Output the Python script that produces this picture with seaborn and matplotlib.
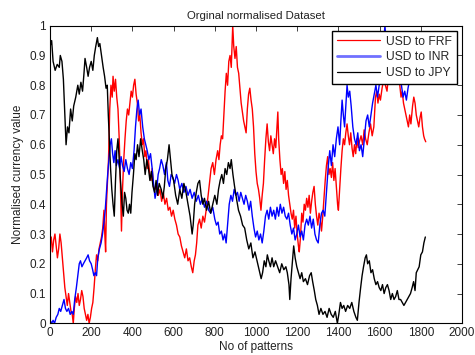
import matplotlib
matplotlib.use("Agg")
import matplotlib.pyplot as plt
import seaborn as sns
import pandas as pd
from matplotlib.lines import Line2D

# ---------------- data ----------------
jpy_x = [0, 8, 15, 25, 35, 45, 50, 58, 65, 72, 78, 85, 92, 100, 108, 115, 125, 135, 142, 150, 158, 165, 170, 178, 185, 192, 200, 208, 215, 222, 230, 236, 242, 250, 258, 265, 272, 278, 283, 288, 294, 300, 306, 312, 318, 324, 330, 336, 342, 350, 356, 362, 368, 374, 380, 386, 392, 398, 405, 412, 418, 425, 432, 440, 448, 455, 462, 470, 478, 485, 492, 500, 508, 515, 522, 530, 540, 548, 555, 562, 570, 578, 585, 592, 600, 610, 620, 630, 640, 650, 660, 670, 680, 690, 695, 702, 710, 718, 726, 734, 742, 750, 760, 770, 780, 790, 800, 810, 818, 826, 834, 842, 850, 858, 866, 874, 880, 888, 896, 905, 915, 925, 935, 945, 955, 965, 975, 985, 995, 1005, 1015, 1025, 1032, 1040, 1048, 1055, 1062, 1070, 1078, 1086, 1095, 1105, 1115, 1125, 1135, 1145, 1152, 1160, 1164, 1170, 1176, 1183, 1190, 1198, 1206, 1214, 1222, 1230, 1240, 1250, 1260, 1268, 1275, 1283, 1290, 1298, 1306, 1315, 1325, 1335, 1345, 1355, 1365, 1375, 1385, 1395, 1402, 1410, 1418, 1426, 1435, 1445, 1455, 1465, 1475, 1485, 1492, 1500, 1508, 1515, 1522, 1530, 1536, 1542, 1550, 1558, 1566, 1574, 1582, 1590, 1598, 1606, 1614, 1622, 1630, 1638, 1646, 1654, 1662, 1670, 1678, 1686, 1694, 1702, 1710, 1718, 1726, 1734, 1742, 1750, 1758, 1765, 1772, 1778, 1785, 1792, 1800, 1808, 1815, 1822]
jpy_y = [0.93, 0.95, 0.88, 0.85, 0.87, 0.86, 0.90, 0.88, 0.82, 0.70, 0.60, 0.66, 0.64, 0.72, 0.68, 0.73, 0.76, 0.80, 0.77, 0.81, 0.78, 0.84, 0.89, 0.86, 0.83, 0.86, 0.88, 0.85, 0.90, 0.93, 0.96, 0.93, 0.94, 0.90, 0.86, 0.83, 0.79, 0.80, 0.70, 0.62, 0.52, 0.45, 0.40, 0.36, 0.48, 0.58, 0.62, 0.55, 0.48, 0.40, 0.36, 0.44, 0.42, 0.38, 0.37, 0.40, 0.37, 0.44, 0.50, 0.57, 0.55, 0.60, 0.56, 0.62, 0.58, 0.55, 0.50, 0.55, 0.52, 0.48, 0.51, 0.46, 0.44, 0.48, 0.43, 0.47, 0.45, 0.42, 0.46, 0.52, 0.55, 0.60, 0.55, 0.50, 0.48, 0.43, 0.40, 0.45, 0.42, 0.47, 0.44, 0.40, 0.36, 0.30, 0.33, 0.40, 0.44, 0.47, 0.48, 0.43, 0.40, 0.42, 0.38, 0.41, 0.37, 0.40, 0.43, 0.40, 0.45, 0.48, 0.50, 0.47, 0.52, 0.50, 0.54, 0.52, 0.55, 0.50, 0.46, 0.42, 0.38, 0.36, 0.33, 0.32, 0.28, 0.25, 0.27, 0.22, 0.24, 0.21, 0.18, 0.15, 0.17, 0.21, 0.19, 0.23, 0.21, 0.19, 0.22, 0.19, 0.21, 0.19, 0.17, 0.20, 0.18, 0.19, 0.17, 0.13, 0.08, 0.15, 0.20, 0.26, 0.22, 0.19, 0.17, 0.15, 0.17, 0.14, 0.15, 0.13, 0.16, 0.17, 0.14, 0.11, 0.08, 0.06, 0.03, 0.05, 0.03, 0.04, 0.02, 0.05, 0.03, 0.02, 0.04, 0.00, 0.03, 0.07, 0.05, 0.06, 0.04, 0.06, 0.05, 0.07, 0.04, 0.02, 0.01, 0.07, 0.12, 0.16, 0.19, 0.22, 0.23, 0.20, 0.21, 0.17, 0.18, 0.15, 0.13, 0.14, 0.12, 0.11, 0.13, 0.10, 0.12, 0.13, 0.11, 0.08, 0.10, 0.08, 0.09, 0.11, 0.08, 0.08, 0.07, 0.06, 0.07, 0.08, 0.09, 0.10, 0.12, 0.14, 0.11, 0.17, 0.18, 0.19, 0.23, 0.24, 0.27, 0.29]

inr_x = [0, 8, 15, 22, 30, 38, 45, 52, 60, 68, 75, 82, 90, 98, 106, 113, 120, 128, 135, 142, 148, 155, 162, 170, 178, 185, 192, 200, 207, 213, 220, 226, 232, 240, 248, 255, 262, 268, 274, 280, 286, 292, 298, 304, 310, 316, 322, 330, 338, 345, 352, 360, 368, 376, 384, 392, 400, 408, 415, 422, 428, 435, 442, 450, 458, 465, 472, 480, 488, 496, 504, 510, 518, 525, 532, 540, 548, 556, 565, 572, 580, 588, 596, 605, 614, 622, 630, 640, 650, 660, 670, 680, 690, 700, 710, 720, 730, 740, 750, 760, 770, 780, 790, 800, 808, 816, 824, 832, 840, 848, 855, 862, 870, 878, 886, 894, 902, 910, 918, 926, 934, 942, 950, 958, 966, 974, 982, 990, 998, 1006, 1014, 1022, 1030, 1038, 1046, 1054, 1062, 1070, 1078, 1086, 1094, 1102, 1110, 1118, 1126, 1134, 1142, 1150, 1158, 1166, 1174, 1182, 1190, 1198, 1206, 1214, 1222, 1230, 1238, 1246, 1254, 1262, 1270, 1278, 1286, 1294, 1302, 1310, 1318, 1326, 1334, 1342, 1350, 1358, 1366, 1374, 1382, 1390, 1398, 1406, 1412, 1418, 1424, 1430, 1436, 1442, 1448, 1455, 1462, 1470, 1478, 1486, 1494, 1502, 1510, 1518, 1526, 1534, 1542, 1550, 1558, 1566, 1574, 1582, 1590, 1598, 1606, 1614, 1620, 1626, 1632, 1640, 1650, 1660, 1670, 1680, 1690, 1698, 1706, 1714, 1722, 1730, 1738, 1746, 1754, 1762, 1772, 1782, 1792, 1802, 1812, 1822]
inr_y = [0.01, 0.00, 0.01, 0.00, 0.02, 0.03, 0.05, 0.04, 0.06, 0.08, 0.05, 0.04, 0.05, 0.03, 0.04, 0.03, 0.08, 0.12, 0.16, 0.20, 0.21, 0.19, 0.20, 0.21, 0.22, 0.23, 0.21, 0.20, 0.18, 0.16, 0.17, 0.16, 0.22, 0.25, 0.27, 0.30, 0.34, 0.38, 0.44, 0.50, 0.55, 0.60, 0.62, 0.57, 0.54, 0.58, 0.53, 0.55, 0.52, 0.56, 0.53, 0.51, 0.55, 0.52, 0.50, 0.54, 0.52, 0.58, 0.66, 0.72, 0.75, 0.70, 0.72, 0.66, 0.62, 0.60, 0.58, 0.55, 0.57, 0.52, 0.46, 0.42, 0.45, 0.50, 0.52, 0.55, 0.53, 0.50, 0.54, 0.48, 0.46, 0.50, 0.49, 0.47, 0.50, 0.48, 0.45, 0.47, 0.44, 0.46, 0.43, 0.45, 0.42, 0.44, 0.41, 0.43, 0.40, 0.42, 0.39, 0.41, 0.38, 0.37, 0.39, 0.35, 0.33, 0.34, 0.30, 0.31, 0.28, 0.30, 0.27, 0.33, 0.40, 0.43, 0.41, 0.45, 0.43, 0.44, 0.41, 0.44, 0.42, 0.40, 0.43, 0.41, 0.38, 0.41, 0.36, 0.32, 0.29, 0.31, 0.28, 0.30, 0.27, 0.31, 0.36, 0.38, 0.35, 0.39, 0.36, 0.38, 0.35, 0.39, 0.36, 0.40, 0.37, 0.39, 0.36, 0.35, 0.37, 0.33, 0.30, 0.32, 0.28, 0.30, 0.33, 0.29, 0.31, 0.28, 0.33, 0.35, 0.33, 0.36, 0.32, 0.35, 0.30, 0.28, 0.27, 0.33, 0.37, 0.38, 0.36, 0.44, 0.52, 0.58, 0.53, 0.60, 0.56, 0.62, 0.66, 0.60, 0.68, 0.75, 0.70, 0.66, 0.73, 0.80, 0.76, 0.78, 0.73, 0.66, 0.62, 0.60, 0.64, 0.58, 0.60, 0.56, 0.62, 0.68, 0.70, 0.66, 0.70, 0.74, 0.77, 0.80, 0.76, 0.80, 0.85, 0.88, 0.95, 1.00, 0.94, 0.90, 0.88, 0.92, 0.89, 0.93, 0.88, 0.84, 0.80, 0.76, 0.78, 0.75, 0.79, 0.82, 0.86, 0.90, 0.88, 0.92, 0.90, 0.93, 0.91, 0.94]

frf_x = [0, 6, 12, 18, 24, 30, 36, 42, 48, 54, 60, 66, 72, 78, 84, 90, 96, 102, 108, 113, 118, 124, 130, 136, 142, 148, 154, 160, 166, 172, 178, 184, 190, 196, 202, 208, 214, 220, 226, 232, 238, 244, 250, 256, 262, 266, 270, 274, 278, 284, 290, 296, 302, 306, 312, 318, 324, 330, 336, 340, 344, 347, 352, 358, 364, 370, 376, 382, 388, 394, 400, 406, 412, 418, 424, 430, 436, 442, 448, 454, 460, 466, 472, 478, 484, 490, 496, 502, 510, 518, 526, 534, 542, 550, 558, 566, 574, 582, 590, 598, 606, 614, 622, 630, 638, 646, 654, 662, 670, 678, 686, 693, 700, 706, 712, 718, 726, 734, 742, 750, 758, 766, 774, 782, 790, 798, 806, 814, 820, 826, 832, 838, 844, 850, 856, 862, 868, 874, 880, 887, 892, 898, 904, 910, 916, 922, 928, 934, 940, 946, 952, 958, 964, 970, 976, 982, 988, 994, 1000, 1006, 1012, 1018, 1024, 1030, 1036, 1042, 1048, 1054, 1060, 1066, 1072, 1078, 1084, 1090, 1096, 1102, 1106, 1110, 1116, 1122, 1128, 1134, 1140, 1146, 1152, 1158, 1164, 1170, 1176, 1182, 1188, 1194, 1200, 1206, 1210, 1216, 1222, 1228, 1234, 1240, 1246, 1252, 1258, 1264, 1270, 1276, 1282, 1288, 1294, 1300, 1306, 1312, 1318, 1324, 1330, 1336, 1342, 1348, 1354, 1360, 1366, 1372, 1378, 1384, 1390, 1396, 1400, 1406, 1412, 1418, 1424, 1430, 1436, 1442, 1448, 1454, 1460, 1466, 1472, 1478, 1484, 1490, 1496, 1502, 1510, 1518, 1525, 1532, 1540, 1548, 1556, 1564, 1572, 1580, 1586, 1592, 1598, 1604, 1612, 1620, 1628, 1636, 1644, 1652, 1660, 1668, 1676, 1684, 1692, 1698, 1704, 1710, 1716, 1722, 1728, 1734, 1740, 1746, 1752, 1760, 1766, 1772, 1778, 1784, 1790, 1796, 1802, 1808, 1814, 1818, 1824]
frf_y = [0.27, 0.29, 0.24, 0.28, 0.30, 0.26, 0.22, 0.25, 0.30, 0.27, 0.22, 0.17, 0.12, 0.09, 0.06, 0.10, 0.07, 0.04, 0.03, 0.00, 0.05, 0.09, 0.07, 0.10, 0.06, 0.08, 0.11, 0.09, 0.05, 0.03, 0.01, 0.03, 0.00, 0.02, 0.05, 0.07, 0.12, 0.18, 0.23, 0.21, 0.25, 0.27, 0.29, 0.32, 0.38, 0.30, 0.24, 0.40, 0.46, 0.55, 0.72, 0.80, 0.76, 0.83, 0.78, 0.82, 0.76, 0.72, 0.62, 0.52, 0.40, 0.31, 0.45, 0.55, 0.62, 0.68, 0.72, 0.70, 0.74, 0.78, 0.76, 0.80, 0.82, 0.77, 0.74, 0.68, 0.70, 0.64, 0.60, 0.62, 0.56, 0.58, 0.52, 0.55, 0.50, 0.48, 0.52, 0.46, 0.45, 0.47, 0.43, 0.45, 0.41, 0.44, 0.40, 0.42, 0.38, 0.39, 0.36, 0.38, 0.35, 0.33, 0.30, 0.29, 0.26, 0.24, 0.22, 0.25, 0.21, 0.22, 0.19, 0.17, 0.21, 0.23, 0.27, 0.33, 0.35, 0.32, 0.36, 0.34, 0.38, 0.42, 0.47, 0.52, 0.54, 0.50, 0.55, 0.58, 0.55, 0.60, 0.63, 0.62, 0.70, 0.78, 0.84, 0.80, 0.88, 0.90, 0.86, 1.00, 0.93, 0.89, 0.93, 0.86, 0.84, 0.79, 0.74, 0.71, 0.68, 0.66, 0.64, 0.72, 0.77, 0.79, 0.75, 0.72, 0.66, 0.57, 0.51, 0.47, 0.45, 0.42, 0.38, 0.43, 0.47, 0.55, 0.62, 0.67, 0.61, 0.58, 0.63, 0.60, 0.57, 0.62, 0.59, 0.66, 0.71, 0.62, 0.55, 0.50, 0.52, 0.47, 0.51, 0.45, 0.48, 0.43, 0.40, 0.37, 0.35, 0.38, 0.32, 0.36, 0.30, 0.26, 0.24, 0.29, 0.37, 0.34, 0.40, 0.38, 0.42, 0.39, 0.43, 0.37, 0.41, 0.44, 0.46, 0.40, 0.36, 0.33, 0.37, 0.35, 0.31, 0.36, 0.42, 0.48, 0.53, 0.56, 0.50, 0.52, 0.49, 0.54, 0.48, 0.52, 0.46, 0.40, 0.38, 0.45, 0.52, 0.58, 0.62, 0.60, 0.64, 0.67, 0.63, 0.60, 0.64, 0.59, 0.56, 0.60, 0.57, 0.62, 0.59, 0.61, 0.63, 0.60, 0.65, 0.62, 0.60, 0.64, 0.67, 0.63, 0.66, 0.76, 0.78, 0.74, 0.77, 0.75, 0.79, 0.82, 0.80, 0.78, 0.84, 0.88, 0.86, 0.90, 0.87, 0.85, 0.83, 0.80, 0.76, 0.78, 0.74, 0.72, 0.70, 0.68, 0.66, 0.70, 0.67, 0.73, 0.76, 0.74, 0.70, 0.68, 0.66, 0.69, 0.71, 0.66, 0.63, 0.62, 0.61]

series_names = ["USD to FRF", "USD to INR", "USD to JPY"]
series_colors = ["#ff0000", "#0000ff", "#000000"]
title = "Orginal normalised Dataset"
xlabel = "No of patterns"
ylabel = "Normalised currency value"
xticks = [0, 200, 400, 600, 800, 1000, 1200, 1400, 1600, 1800, 2000]
yticks = [0, 0.1, 0.2, 0.3, 0.4, 0.5, 0.6, 0.7, 0.8, 0.9, 1]
ytick_labels = ["0", "0.1", "0.2", "0.3", "0.4", "0.5", "0.6", "0.7", "0.8", "0.9", "1"]

# ---------------- plot ----------------
sns.set_theme(style="white")
plt.rcParams["font.family"] = ["Liberation Sans", "DejaVu Sans"]

fig = plt.figure(figsize=(4.75, 3.55), dpi=100)
ax = fig.add_axes([50 / 475, 31.7 / 355, 412 / 475, 297.6 / 355])

xs = [frf_x, inr_x, jpy_x]
ys = [frf_y, inr_y, jpy_y]
for name, col, x, y in zip(series_names, series_colors, xs, ys):
    df = pd.DataFrame({"pattern": x, "value": y})
    sns.lineplot(data=df, x="pattern", y="value", ax=ax, color=col,
                 linewidth=1.0, estimator=None, sort=False, legend=False)

ax.set_xlim(0, 2000)
ax.set_ylim(0, 1)
ax.set_xticks(xticks)
ax.set_xticklabels([str(t) for t in xticks])
ax.set_yticks(yticks)
ax.set_yticklabels(ytick_labels)
ax.tick_params(direction="in", top=True, right=True, length=3.5, width=0.6,
               labelsize=8.5, colors="#222222", pad=3)
for s in ax.spines.values():
    s.set_color("black")
    s.set_linewidth(0.8)

ax.set_title(title, fontsize=8.2, pad=5, color="#222222")
ax.set_xlabel(xlabel, fontsize=8.5, labelpad=1, color="#222222")
ax.set_ylabel(ylabel, fontsize=8.5, labelpad=4, color="#222222")

handles = [
    Line2D([], [], color="#ff0000", linewidth=0.9),
    Line2D([], [], color="#7070ff", linewidth=2.0),
    Line2D([], [], color="#000000", linewidth=0.9),
]
leg = ax.legend(handles, series_names, loc="upper right", fontsize=8.7,
                frameon=True, fancybox=False, framealpha=1, edgecolor="black",
                borderaxespad=0.4, handlelength=3.6, handletextpad=0.5,
                labelspacing=0.32, borderpad=0.42)
leg.get_frame().set_linewidth(1.0)

fig.savefig("out.png", dpi=100)
